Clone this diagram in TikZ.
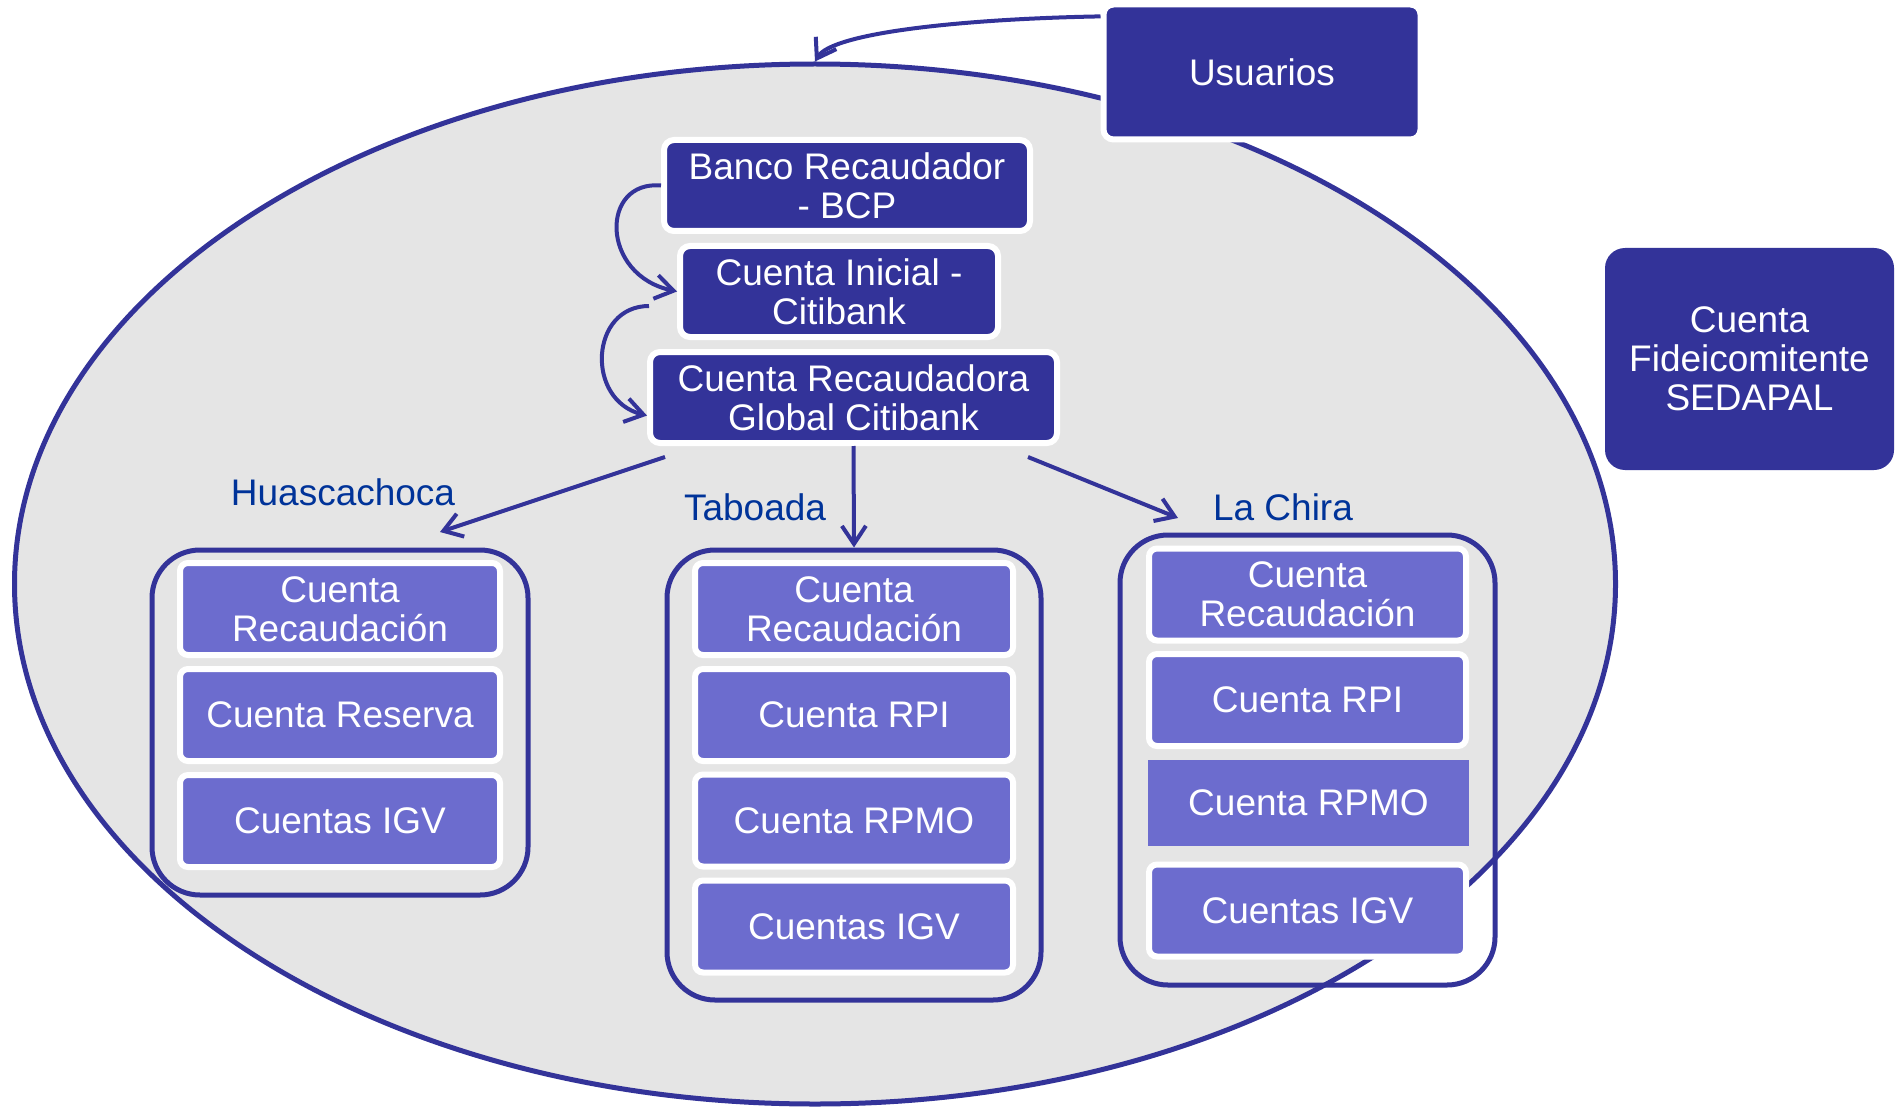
\documentclass[tikz,border=0pt]{standalone}
\usepackage{fontspec}
\setmainfont{Liberation Sans}
\usetikzlibrary{arrows.meta,shapes.geometric}
\definecolor{dblue}{RGB}{51,51,153}
\definecolor{lpurple}{RGB}{108,108,206}
\definecolor{lblue}{RGB}{0,51,153}
\definecolor{egray}{RGB}{229,229,229}
\begin{document}
\begin{tikzpicture}[x=1pt,y=1pt,
  txt/.style={font=\fontsize{37}{39}\selectfont},
  ell/.style={ellipse, draw=dblue, fill=egray, line width=5pt, inner sep=0pt},
  darkbox/.style={txt, rectangle, fill=dblue, draw=white, line width=6pt, rounded corners=10pt, text=white, align=center, inner sep=0pt},
  lightbox/.style={darkbox, fill=lpurple, rounded corners=8pt},
  grp/.style={rectangle, draw=dblue, line width=5pt, rounded corners=48pt, inner sep=0pt},
  lab/.style={txt, text=lblue, inner sep=0pt},
  arr/.style={draw=dblue, line width=4pt, -{Straight Barb[length=18pt,width=24pt]}},
]
\fill[white] (0,0) rectangle (1902,-1107);
\useasboundingbox (0,0) rectangle (1902,-1107);

\node[ell, minimum width=1601pt, minimum height=1040pt] (ell) at (815,-584) {};

\node[lab] (hlab) at (343,-492) {Huascachoca};
\node[lab] (tlab) at (755,-507) {Taboada};
\node[lab] (llab) at (1283,-507) {La Chira};

\node[grp, minimum width=376pt, minimum height=345pt] (hgrp) at (340,-722.5) {};
\node[grp, minimum width=374pt, minimum height=450pt] (tgrp) at (854,-775) {};
\node[grp, minimum width=375pt, minimum height=450pt] (lgrp) at (1307.5,-760) {};

\node[darkbox, minimum width=317pt, minimum height=135pt] (usu) at (1262,-72) {Usuarios};
\node[darkbox, minimum width=366pt, minimum height=91pt] (banco) at (847,-185.5) {Banco Recaudador\\- BCP};
\node[darkbox, minimum width=318pt, minimum height=91pt] (inicial) at (839,-291.5) {Cuenta Inicial -\\Citibank};
\node[darkbox, minimum width=407pt, minimum height=91pt] (global) at (853.5,-397.5) {Cuenta Recaudadora\\Global Citibank};
\node[darkbox, draw=none, rounded corners=20pt, minimum width=289pt, minimum height=222pt] (fide) at (1749.5,-359) {Cuenta\\Fideicomitente\\SEDAPAL};

% Huascachoca
\node[lightbox, minimum width=320pt, minimum height=92pt] (h1) at (340,-609) {Cuenta\\Recaudación};
\node[lightbox, minimum width=320pt, minimum height=92pt] (h2) at (340,-715) {Cuenta Reserva};
\node[lightbox, minimum width=320pt, minimum height=92pt] (h3) at (340,-821) {Cuentas IGV};

% Taboada
\node[lightbox, minimum width=318pt, minimum height=92pt] (t1) at (854,-609) {Cuenta\\Recaudación};
\node[lightbox, minimum width=318pt, minimum height=92pt] (t2) at (854,-715) {Cuenta RPI};
\node[lightbox, minimum width=318pt, minimum height=92pt] (t3) at (854,-820.5) {Cuenta RPMO};
\node[lightbox, minimum width=318pt, minimum height=92pt] (t4) at (854,-926.5) {Cuentas IGV};

% La Chira
\node[lightbox, minimum width=317pt, minimum height=92pt] (l1) at (1307.5,-594.5) {Cuenta\\Recaudación};
\node[lightbox, minimum width=317pt, minimum height=92pt] (l2) at (1307.5,-700) {Cuenta RPI};
\node[lightbox, draw=none, rounded corners=0pt, minimum width=321pt, minimum height=86pt] (l3) at (1308.5,-803) {Cuenta RPMO};
\node[lightbox, minimum width=317pt, minimum height=92pt] (l4) at (1307.5,-910.5) {Cuentas IGV};

% connectors
\draw[arr] (usu.161.5) .. controls (960,-19) and (832,-33) .. (ell.north);
\draw[arr] (banco.west) .. controls (600,-180) and (600,-275) .. (inicial.west);
\coordinate (c2) at (649,-306);
\draw[arr] (c2) .. controls (590,-306) and (585,-400) .. (global.185);
\coordinate (hs) at (665,-457);
\coordinate (ht) at (440,-532);
\draw[arr] (hs) -- (ht);
\draw[arr] (global.south) -- (tgrp.north);
\coordinate (ls) at (1028,-457);
\coordinate (lt) at (1178,-518);
\draw[arr] (ls) -- (lt);
\end{tikzpicture}
\end{document}
